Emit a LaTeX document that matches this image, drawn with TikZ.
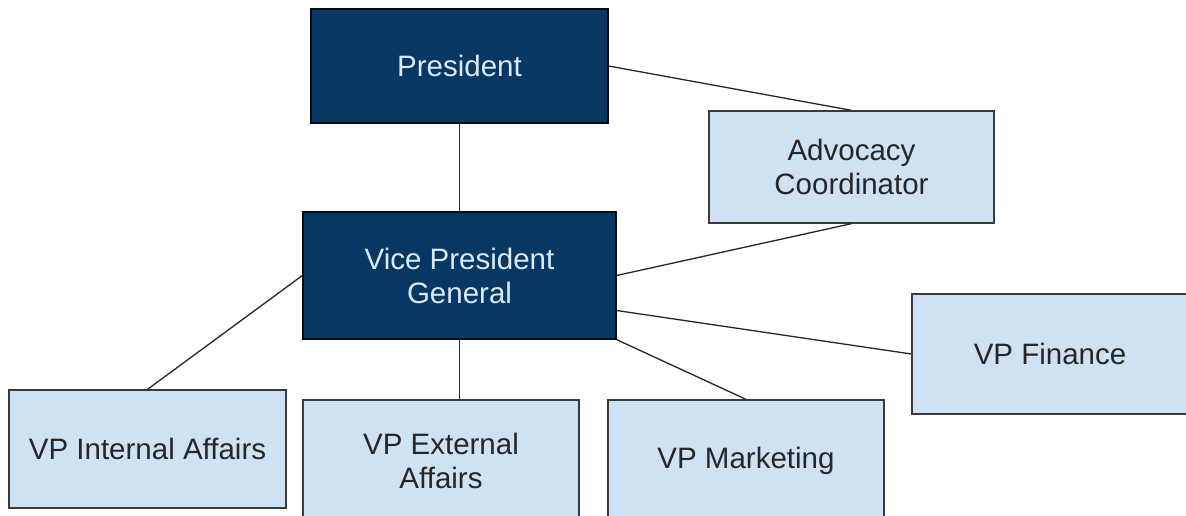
\documentclass[tikz,border=0pt]{standalone}
\usepackage{fontspec}
\setmainfont{Liberation Sans}
\definecolor{navy}{HTML}{073763}
\definecolor{lightbl}{HTML}{CFE2F3}
\definecolor{navytext}{HTML}{DCE9F6}
\definecolor{edge}{HTML}{3A3A3A}
\begin{document}
\begin{tikzpicture}[x=1pt,y=-1pt,
  box/.style={rectangle, draw=edge, line width=1.3pt, inner sep=0pt, align=center,
    font=\fontsize{29.5}{34}\selectfont},
  darkbox/.style={box, fill=navy, draw=black!80!navy, text=navytext},
  lightbox/.style={box, fill=lightbl, text=black!85},
  conn/.style={draw=black!85, line width=1.3pt}]
\useasboundingbox (0,0) rectangle (1186,516);
\clip (0,0) rectangle (1186,516);
\node[darkbox, minimum width=297pt, minimum height=114pt] (pres) at (459.5,66) {President};
\node[lightbox, minimum width=285pt, minimum height=112pt] (adv) at (851.5,167) {Advocacy\\Coordinator};
\node[darkbox, minimum width=313pt, minimum height=127pt] (vpg) at (459.5,275.5) {Vice President\\General};
\node[lightbox, minimum width=276pt, minimum height=120pt] (fin) at (1050,354) {VP Finance};
\node[lightbox, minimum width=277pt, minimum height=118pt] (int) at (147.5,449) {VP Internal Affairs};
\node[lightbox, minimum width=276pt, minimum height=122pt] (ext) at (441,461) {VP External\\Affairs};
\node[lightbox, minimum width=276pt, minimum height=122pt] (mkt) at (746,461) {VP Marketing};
\draw[conn] (pres.east) -- (adv.north);
\draw[conn] (pres.south) -- (vpg.north);
\draw[conn] (adv.south) -- (vpg.east);
\draw[conn] (vpg.west) -- (int.north);
\draw[conn] (vpg.south) -- (vpg.south |- ext.north);
\draw[conn] (vpg.south east) -- (mkt.north);
\draw[conn] ([yshift=-35pt]vpg.east) -- (fin.west);
\end{tikzpicture}
\end{document}
